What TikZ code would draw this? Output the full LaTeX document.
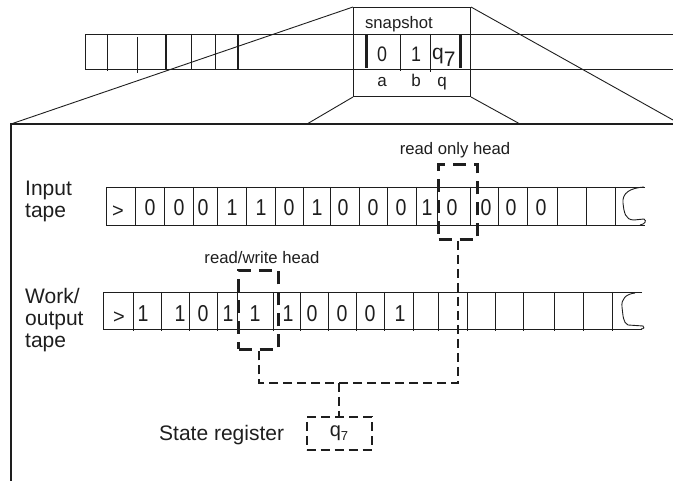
\documentclass[tikz,border=0pt]{standalone}
\usepackage{fontspec}
\setmainfont{Liberation Sans}
\usepackage{graphicx}
\definecolor{ink}{HTML}{1E1E1E}
\newcommand\dg[1]{\scalebox{0.85}[1]{#1}}
\begin{document}
\begin{tikzpicture}[x=1pt,y=-1pt,
  tline/.style={line width=0.9pt, draw=ink},
  tbar/.style={line width=2.6pt, draw=ink},
  headbox/.style={draw=ink, line width=3pt, dash pattern=on 13pt off 8pt, inner sep=0pt},
  conn/.style={draw=ink, line width=2pt, dash pattern=on 9pt off 5pt},
  lbl/.style={font=\fontsize{21}{22}\selectfont, align=left, inner sep=0pt, text=ink},
  hlbl/.style={font=\fontsize{16.7}{20}\selectfont, inner sep=0pt, text=ink},
  sym/.style={anchor=base, inner sep=0pt, text=ink, font=\fontsize{23}{26}\selectfont},
  gt/.style={anchor=base, inner sep=0pt, text=ink, font=\fontsize{20}{22}\selectfont},
  ssym/.style={anchor=base, inner sep=0pt, text=ink, font=\fontsize{21}{24}\selectfont},
  slbl/.style={anchor=base, inner sep=0pt, text=ink, font=\fontsize{17}{20}\selectfont},
]
\useasboundingbox (0,0) rectangle (673,481);

% ---------- top tape ----------
\draw[tline] (673,34) -- (85,34) -- (85,69) -- (673,69);
\foreach \x/\a/\b in {107/34/71, 137/37/73, 191/34/69, 215/34/69}
  \draw[tline] (\x,\a) -- (\x,\b);
\foreach \x in {166,238}
  \draw[tbar] (\x,35) -- (\x,69);

% ---------- snapshot ----------
\node[draw=ink, line width=1pt, minimum width=117pt, minimum height=89pt,
      inner sep=0pt, anchor=north west] (snap) at (353,7) {};
\node[hlbl] (snaplbl) at (399,24) {snapshot};
\draw[tbar, line width=3pt] (366,35) -- (366,68);
\draw[tbar, line width=3pt] (460,35) -- (460,68);
\draw[tline] (400,34) -- (400,71);
\draw[tline] (430,34) -- (430,72);
\node[ssym] (s0) at (382,62) {\dg{0}};
\node[ssym] (s1) at (416,62) {\dg{1}};
\node[ssym, anchor=base west] (sq) at (432,60) {q\raisebox{-7pt}{7}};
\node[slbl] (la) at (382,87) {a};
\node[slbl] (lb) at (416,87) {b};
\node[slbl] (lq) at (442,87) {q};

% ---------- frame and zoom lines ----------
\coordinate (ftl) at (11,124);
\coordinate (ftr) at (673,124);
\coordinate (fbl) at (11,481);
\coordinate (zl) at (307,124);
\coordinate (zr) at (520,124);
\coordinate (zfr) at (673,120);
\draw[tline, line width=1.1pt] (fbl) -- (ftl) -- (ftr);
\draw[tline] (snap.north west) -- (ftl);
\draw[tline] (snap.south west) -- (zl);
\draw[tline] (snap.south east) -- (zr);
\draw[tline] (snap.north east) -- (zfr);

% ---------- input tape ----------
\node[lbl, anchor=north west] (inlbl) at (25,181) {Input\\tape};
\draw[tline] (645,187) -- (106,187) -- (106,225) -- (645,225);
\foreach \x in {135,164,193,217,246,275,303,330,359,387,416,437,470,498,527,557,586,615}
  \draw[tline] (\x,187) -- (\x,226);
\draw[tline] (644,187) .. controls (630,188) and (622,193) .. (623,203)
   .. controls (624,212) and (625,220) .. (634,220) -- (644,219)
   .. controls (647,221) and (645,224) .. (640,225);
\node[gt] (i0) at (118,218) {>};
\foreach \x/\s [count=\i] in {150/0,179/0,203/0,232/1,261/1,289/0,317/1,343/0,373/0,401/0,427/1,452/0,486/0,511/0,541/0}
  \node[sym] (i\i) at (\x,216) {\dg{\s}};

% ---------- work tape ----------
\node[lbl, anchor=north west] (wlbl) at (25,288) {Work/\\output\\tape};
\draw[tline] (642,292) -- (103,292) -- (103,329) -- (642,329);
\foreach \x in {133,161,189,217,237,273,300,328,356,384,413,438,467,495,523,554,583,612}
  \draw[tline] (\x,292) -- (\x,331);
\draw[tline] (635,293) .. controls (626,294) and (621,299) .. (622,307)
   .. controls (623,315) and (623,323) .. (628,325) -- (643,326)
   .. controls (645,327) and (644,329) .. (641,329);
\node[gt] (w0) at (119,324) {>};
\foreach \x/\s [count=\i] in {143/1,180/1,203/0,228/1,255/1,288/1,312/0,342/0,370/0,400/1}
  \node[sym] (w\i) at (\x,322) {\dg{\s}};

% ---------- heads ----------
\node[hlbl] (rolbl) at (455,150) {read only head};
\node[hlbl] (rwlbl) at (262,258) {read/write head};
\node[headbox, minimum width=39pt, minimum height=75pt, anchor=north west] (inhead) at (437,163) {};
\node[headbox, minimum width=40pt, minimum height=79pt, anchor=north west] (wrhead) at (237,269) {};

% ---------- state register ----------
\node[lbl, anchor=base west] (stlbl) at (159,440) {State register};
\node[conn, minimum width=65pt, minimum height=33pt, inner sep=0pt,
      font=\fontsize{20}{22}\selectfont, text=ink] (state) at (339,433.5) {q\raisebox{-4pt}{\fontsize{13}{14}\selectfont 7}};
\coordinate (j) at (339,383);
\draw[conn] (inhead.south) -- (inhead.south |- j) -- (wrhead.south |- j) -- (wrhead.south);
\draw[conn] (j) -- (state.north);
\end{tikzpicture}
\end{document}
